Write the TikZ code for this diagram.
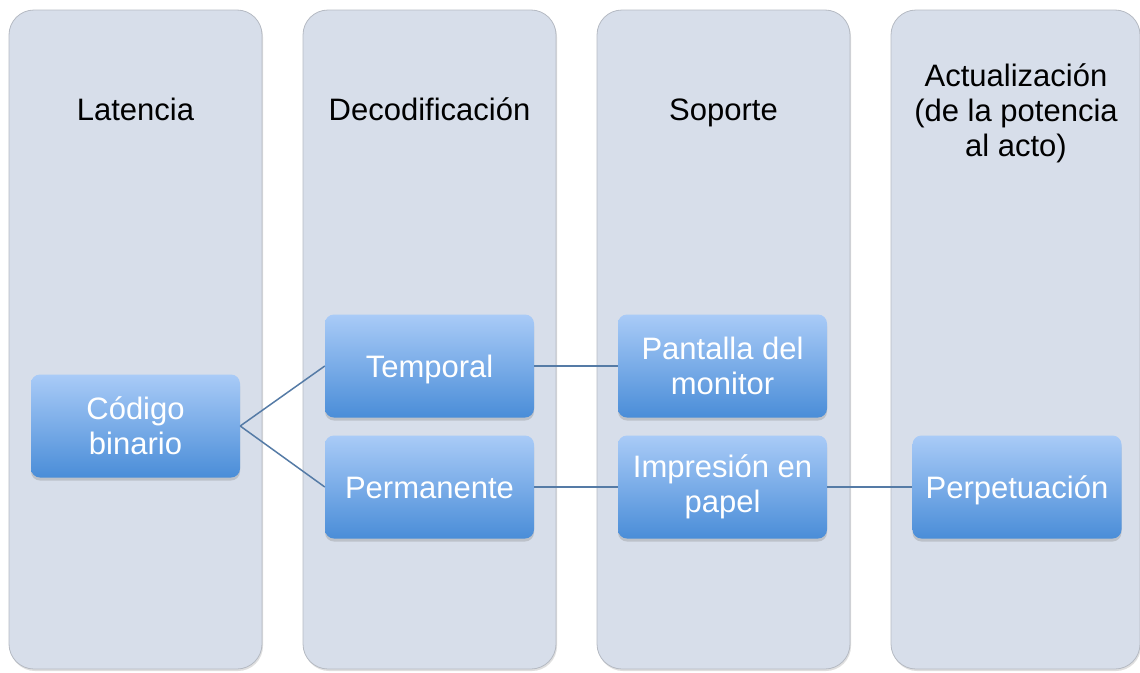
\documentclass[tikz,border=0pt]{standalone}
\usepackage{fontspec}
\setmainfont{Liberation Sans}
\usetikzlibrary{shadows}

\definecolor{colfill}{HTML}{D7DEEA}
\definecolor{colline}{HTML}{B5BAC3}
\definecolor{boxtop}{HTML}{A9CBF7}
\definecolor{boxbot}{HTML}{4A8DD8}
\definecolor{linkcol}{HTML}{557BA6}

\begin{document}
\begin{tikzpicture}[x=1pt, y=-1pt]
\tikzset{ColumnStyle/.style = {draw= colline, fill= colfill, rounded corners= 25pt, line width= 0.8pt,
        minimum height= 659pt, inner sep= 0pt,
        drop shadow= {shadow xshift= 1pt, shadow yshift= -2pt, opacity= 0.25}},
    HeadStyle/.style = {align= center, text= black, font= \fontsize{31}{35}\selectfont},
    OneLine/.style = {text height= 25pt, text depth= 3pt},
    BoxStyle/.style = {top color= boxtop, bottom color= boxbot, rounded corners= 9pt,
        minimum width= 209pt, minimum height= 103pt, inner sep= 0pt, align= center,
        text= white, font= \fontsize{31}{35}\selectfont,
        drop shadow= {shadow xshift= 0pt, shadow yshift= -3pt, opacity= 0.3}},
    LinkStyle/.style = {draw= linkcol, line width= 1.5pt}
}
    \useasboundingbox (0,0) rectangle (1140,672);

    % Draw columns
    \node[ColumnStyle, minimum width= 253pt] (col1) at (135.5,339.5) {};
    \node[ColumnStyle, minimum width= 253pt] (col2) at (429.5,339.5) {};
    \node[ColumnStyle, minimum width= 253pt] (col3) at (723.5,339.5) {};
    \node[ColumnStyle, minimum width= 249pt] (col4) at (1015.5,339.5) {};

   \node[HeadStyle, OneLine] (head1) at (135.5,109) {Latencia};
   \node[HeadStyle, OneLine] (head2) at (429.5,109) {Decodificación};
   \node[HeadStyle, OneLine] (head3) at (723.5,109) {Soporte};
   \node[HeadStyle] (head4) at (1016,113) {Actualización\\(de la potencia\\al acto)};

   \node[BoxStyle] (binario) at (135.5,426) {Código\\binario};
   \node[BoxStyle, OneLine] (temporal) at (429.5,366) {Temporal};
   \node[BoxStyle, OneLine] (permanente) at (429.5,487) {Permanente};
   \node[BoxStyle] (pantalla) at (722.5,366) {Pantalla del\\monitor};
   \node[BoxStyle] (papel) at (722.5,487) {Impresión en\\papel};
   \node[BoxStyle, OneLine] (perpetua) at (1017,487) {Perpetuación};

    % Draw links
    \draw[LinkStyle] (binario.east) -- (temporal.west);
    \draw[LinkStyle] (binario.east) -- (permanente.west);
    \draw[LinkStyle] (temporal.east) -- (pantalla.west);
    \draw[LinkStyle] (permanente.east) -- (papel.west);
    \draw[LinkStyle] (papel.east) -- (perpetua.west);
\end{tikzpicture}
\end{document}
